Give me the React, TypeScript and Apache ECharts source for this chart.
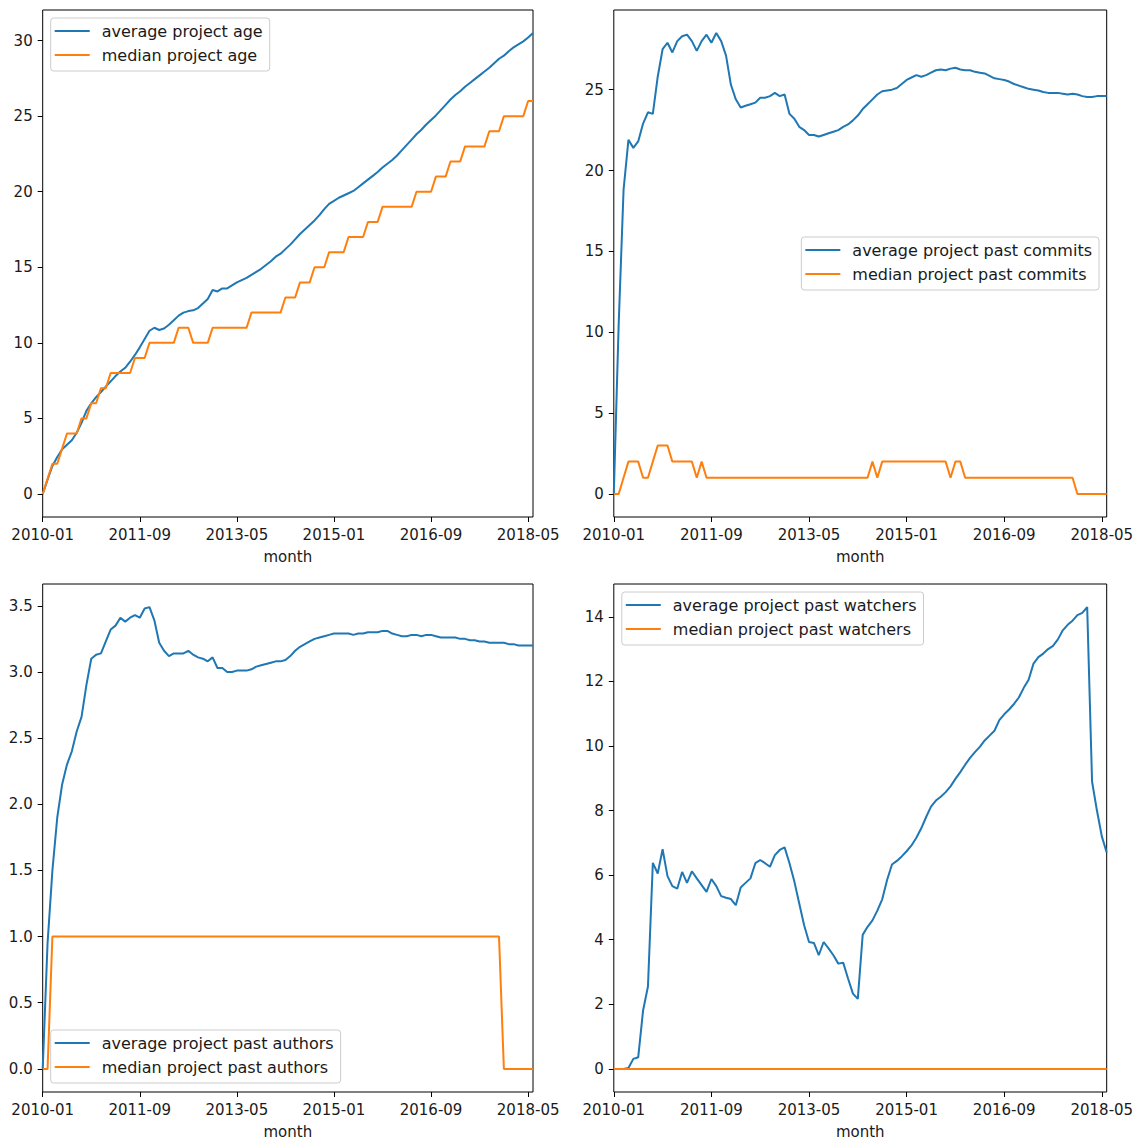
import React, { useEffect, useRef } from "react";
import * as echarts from "echarts";

// Monthly index: 0 = 2010-01 ... 101 = 2018-06
const monthTickIndex = [0, 20, 40, 60, 80, 100];
const monthTickLabels = ["2010-01", "2011-09", "2013-05", "2015-01", "2016-09", "2018-05"];

const ageAvg = [
  0, 0.95, 1.85, 2.45, 2.95, 3.25, 3.55, 4.05, 4.7, 5.5,
  6.0, 6.4, 6.75, 7.1, 7.45, 7.8, 8.1, 8.35, 8.75, 9.2,
  9.7, 10.25, 10.8, 11.0, 10.85, 10.95, 11.2, 11.5, 11.8, 12.0,
  12.1, 12.15, 12.3, 12.6, 12.9, 13.5, 13.4, 13.6, 13.6, 13.8,
  14.0, 14.15, 14.3, 14.5, 14.7, 14.9, 15.15, 15.4, 15.7, 15.9,
  16.2, 16.5, 16.85, 17.2, 17.5, 17.8, 18.1, 18.45, 18.85, 19.2,
  19.4, 19.6, 19.75, 19.9, 20.05, 20.3, 20.55, 20.8, 21.05, 21.3,
  21.6, 21.85, 22.1, 22.4, 22.75, 23.1, 23.45, 23.8, 24.1, 24.45,
  24.75, 25.05, 25.4, 25.75, 26.1, 26.4, 26.65, 26.95, 27.2, 27.45,
  27.7, 27.95, 28.2, 28.5, 28.8, 29.0, 29.3, 29.55, 29.75, 29.95,
  30.2, 30.5,
];

const ageMedian = [
  0, 1, 2, 2, 3, 4, 4, 4, 5, 5,
  6, 6, 7, 7, 8, 8, 8, 8, 8, 9,
  9, 9, 10, 10, 10, 10, 10, 10, 11, 11,
  11, 10, 10, 10, 10, 11, 11, 11, 11, 11,
  11, 11, 11, 12, 12, 12, 12, 12, 12, 12,
  13, 13, 13, 14, 14, 14, 15, 15, 15, 16,
  16, 16, 16, 17, 17, 17, 17, 18, 18, 18,
  19, 19, 19, 19, 19, 19, 19, 20, 20, 20,
  20, 21, 21, 21, 22, 22, 22, 23, 23, 23,
  23, 23, 24, 24, 24, 25, 25, 25, 25, 25,
  26, 26,
];

const commitsAvg = [
  0, 10.5, 18.8, 21.9, 21.4, 21.8, 22.9, 23.6, 23.5, 25.8,
  27.5, 27.9, 27.3, 28.0, 28.3, 28.4, 28.0, 27.4, 28.0, 28.4,
  27.9, 28.5, 28.0, 27.1, 25.3, 24.4, 23.9, 24.0, 24.1, 24.2,
  24.5, 24.5, 24.6, 24.8, 24.6, 24.7, 23.5, 23.2, 22.7, 22.5,
  22.2, 22.2, 22.1, 22.2, 22.3, 22.4, 22.5, 22.7, 22.85, 23.1,
  23.4, 23.8, 24.1, 24.4, 24.7, 24.9, 24.95, 25.0, 25.1, 25.35,
  25.6, 25.75, 25.9, 25.8, 25.9, 26.05, 26.2, 26.25, 26.2, 26.3,
  26.35, 26.25, 26.2, 26.2, 26.1, 26.05, 26.0, 25.85, 25.7, 25.65,
  25.6, 25.5, 25.35, 25.25, 25.15, 25.05, 25.0, 24.95, 24.85, 24.8,
  24.8, 24.8, 24.75, 24.7, 24.75, 24.7, 24.6, 24.55, 24.55, 24.6,
  24.6, 24.6,
];

const commitsMedian = [
  0, 0, 1, 2, 2, 2, 1, 1, 2, 3,
  3, 3, 2, 2, 2, 2, 2, 1, 2, 1,
  1, 1, 1, 1, 1, 1, 1, 1, 1, 1,
  1, 1, 1, 1, 1, 1, 1, 1, 1, 1,
  1, 1, 1, 1, 1, 1, 1, 1, 1, 1,
  1, 1, 1, 2, 1, 2, 2, 2, 2, 2,
  2, 2, 2, 2, 2, 2, 2, 2, 2, 1,
  2, 2, 1, 1, 1, 1, 1, 1, 1, 1,
  1, 1, 1, 1, 1, 1, 1, 1, 1, 1,
  1, 1, 1, 1, 1, 0, 0, 0, 0, 0,
  0, 0,
];

const authorsAvg = [
  0, 0.95, 1.5, 1.9, 2.15, 2.3, 2.4, 2.55, 2.66, 2.9,
  3.1, 3.13, 3.14, 3.23, 3.32, 3.35, 3.41, 3.38, 3.41, 3.43,
  3.41, 3.48, 3.49, 3.39, 3.22, 3.16, 3.12, 3.14, 3.14, 3.14,
  3.16, 3.13, 3.11, 3.1, 3.08, 3.11, 3.03, 3.03, 3.0, 3.0,
  3.01, 3.01, 3.01, 3.02, 3.04, 3.05, 3.06, 3.07, 3.08, 3.08,
  3.09, 3.12, 3.16, 3.19, 3.21, 3.23, 3.25, 3.26, 3.27, 3.28,
  3.29, 3.29, 3.29, 3.29, 3.28, 3.29, 3.29, 3.3, 3.3, 3.3,
  3.31, 3.31, 3.29, 3.28, 3.27, 3.27, 3.28, 3.28, 3.27, 3.28,
  3.28, 3.27, 3.26, 3.26, 3.26, 3.26, 3.25, 3.25, 3.24, 3.24,
  3.23, 3.23, 3.22, 3.22, 3.22, 3.22, 3.21, 3.21, 3.2, 3.2,
  3.2, 3.2,
];

const authorsMedian = [
  0, 0, 1, 1, 1, 1, 1, 1, 1, 1,
  1, 1, 1, 1, 1, 1, 1, 1, 1, 1,
  1, 1, 1, 1, 1, 1, 1, 1, 1, 1,
  1, 1, 1, 1, 1, 1, 1, 1, 1, 1,
  1, 1, 1, 1, 1, 1, 1, 1, 1, 1,
  1, 1, 1, 1, 1, 1, 1, 1, 1, 1,
  1, 1, 1, 1, 1, 1, 1, 1, 1, 1,
  1, 1, 1, 1, 1, 1, 1, 1, 1, 1,
  1, 1, 1, 1, 1, 1, 1, 1, 1, 1,
  1, 1, 1, 1, 1, 0, 0, 0, 0, 0,
  0, 0,
];

const watchersAvg = [
  0, 0, 0, 0.03, 0.31, 0.36, 1.81, 2.55, 6.38, 6.05,
  6.8, 5.97, 5.66, 5.58, 6.1, 5.76, 6.12, 5.9, 5.69, 5.48,
  5.88, 5.66, 5.35, 5.3, 5.26, 5.07, 5.62, 5.76, 5.9, 6.37,
  6.47, 6.37, 6.26, 6.62, 6.78, 6.86, 6.37, 5.8, 5.12, 4.45,
  3.93, 3.9, 3.52, 3.93, 3.73, 3.52, 3.26, 3.29, 2.8, 2.33,
  2.17, 4.15, 4.4, 4.6, 4.9, 5.25, 5.85, 6.33, 6.44, 6.58,
  6.74, 6.92, 7.16, 7.45, 7.8, 8.12, 8.31, 8.43, 8.57, 8.75,
  8.98, 9.19, 9.42, 9.63, 9.81, 9.97, 10.17, 10.32, 10.47, 10.8,
  10.98, 11.13, 11.3, 11.5, 11.8, 12.05, 12.55, 12.75, 12.86, 13.0,
  13.1, 13.3, 13.58, 13.75, 13.88, 14.05, 14.12, 14.3, 8.9, 8.0,
  7.2, 6.7,
];

const watchersMedian = [
  0, 0, 0, 0, 0, 0, 0, 0, 0, 0,
  0, 0, 0, 0, 0, 0, 0, 0, 0, 0,
  0, 0, 0, 0, 0, 0, 0, 0, 0, 0,
  0, 0, 0, 0, 0, 0, 0, 0, 0, 0,
  0, 0, 0, 0, 0, 0, 0, 0, 0, 0,
  0, 0, 0, 0, 0, 0, 0, 0, 0, 0,
  0, 0, 0, 0, 0, 0, 0, 0, 0, 0,
  0, 0, 0, 0, 0, 0, 0, 0, 0, 0,
  0, 0, 0, 0, 0, 0, 0, 0, 0, 0,
  0, 0, 0, 0, 0, 0, 0, 0, 0, 0,
  0, 0,
];

const ageTicks = [0, 5, 10, 15, 20, 25, 30];
const commitsTicks = [0, 5, 10, 15, 20, 25];
const authorsTicks = [0, 0.5, 1, 1.5, 2, 2.5, 3, 3.5];
const watchersTicks = [0, 2, 4, 6, 8, 10, 12, 14];

const ageNames = ["average project age", "median project age"];
const commitsNames = ["average project past commits", "median project past commits"];
const authorsNames = ["average project past authors", "median project past authors"];
const watchersNames = ["average project past watchers", "median project past watchers"];

const BLUE = "#1f77b4";
const ORANGE = "#ff7f0e";
const INK = "#1a1a1a";
const FONT = "DejaVu Sans";

const panels = [
  { avg: ageAvg, median: ageMedian, names: ageNames, yTicks: ageTicks, decimals: 0 },
  { avg: commitsAvg, median: commitsMedian, names: commitsNames, yTicks: commitsTicks, decimals: 0 },
  { avg: authorsAvg, median: authorsMedian, names: authorsNames, yTicks: authorsTicks, decimals: 1 },
  { avg: watchersAvg, median: watchersMedian, names: watchersNames, yTicks: watchersTicks, decimals: 0 },
];

// Plot frames and legend anchors, in page pixels
const frames = [
  { grid: { left: 42.7, top: 10, width: 490.3, height: 507 }, legend: { left: 50.7, top: 18 } },
  { grid: { left: 613.8, top: 10, width: 492.9, height: 507 }, legend: { right: 41, top: 237 } },
  { grid: { left: 42.7, top: 584, width: 490.3, height: 508 }, legend: { left: 50.7, top: 1030 } },
  { grid: { left: 613.8, top: 584, width: 492.9, height: 508 }, legend: { left: 621.8, top: 592 } },
];

// Data limits with a 5% margin on each side
function paddedExtent(a: number[], b: number[]): [number, number] {
  const all = a.concat(b);
  const lo = Math.min(...all);
  const hi = Math.max(...all);
  const pad = (hi - lo) * 0.05;
  return [lo - pad, hi + pad];
}

function buildOption() {
  const grid: any[] = [];
  const xAxis: any[] = [];
  const yAxis: any[] = [];
  const legend: any[] = [];
  const series: any[] = [];

  panels.forEach((p, k) => {
    const f = frames[k];
    grid.push({
      ...f.grid,
      show: true,
      borderColor: "#000",
      borderWidth: 1,
      backgroundColor: "transparent",
      containLabel: false,
    });

    xAxis.push({
      type: "value",
      gridIndex: k,
      min: 0,
      max: p.avg.length - 1,
      axisLine: { show: false, onZero: false },
      splitLine: { show: false },
      axisTick: {
        show: true,
        customValues: monthTickIndex,
        length: 5,
        lineStyle: { color: "#000", width: 1 },
      },
      axisLabel: {
        customValues: monthTickIndex,
        margin: 10,
        fontSize: 15,
        fontFamily: FONT,
        color: INK,
        formatter: (v: number) => {
          const idx = monthTickIndex.indexOf(Math.round(v));
          return idx >= 0 ? monthTickLabels[idx] : "";
        },
      },
      name: "month",
      nameLocation: "middle",
      nameGap: 32,
      nameTextStyle: { fontSize: 15, fontFamily: FONT, color: INK },
    });

    const [ymin, ymax] = paddedExtent(p.avg, p.median);
    yAxis.push({
      type: "value",
      gridIndex: k,
      min: ymin,
      max: ymax,
      axisLine: { show: false, onZero: false },
      splitLine: { show: false },
      axisTick: {
        show: true,
        customValues: p.yTicks,
        length: 5,
        lineStyle: { color: "#000", width: 1 },
      },
      axisLabel: {
        customValues: p.yTicks,
        margin: 10,
        fontSize: 15,
        fontFamily: FONT,
        color: INK,
        formatter: (v: number) => v.toFixed(p.decimals),
      },
    });

    legend.push({
      ...f.legend,
      orient: "vertical",
      data: p.names,
      selectedMode: false,
      icon: "rect",
      itemWidth: 35,
      itemHeight: 2,
      itemGap: 8,
      padding: [5, 7, 8, 4],
      backgroundColor: "rgba(255,255,255,0.8)",
      borderColor: "#cccccc",
      borderWidth: 1,
      borderRadius: 3,
      textStyle: {
        fontSize: 16,
        fontFamily: FONT,
        color: INK,
        padding: [0, 0, 0, 7],
      },
    });

    series.push({
      type: "line",
      name: p.names[0],
      xAxisIndex: k,
      yAxisIndex: k,
      data: p.avg.map((v, i) => [i, v]),
      symbol: "none",
      color: BLUE,
      lineStyle: { color: BLUE, width: 2 },
    });
    series.push({
      type: "line",
      name: p.names[1],
      xAxisIndex: k,
      yAxisIndex: k,
      data: p.median.map((v, i) => [i, v]),
      symbol: "none",
      color: ORANGE,
      lineStyle: { color: ORANGE, width: 2 },
    });
  });

  return {
    animation: false,
    backgroundColor: "#ffffff",
    textStyle: { fontFamily: FONT },
    grid,
    xAxis,
    yAxis,
    legend,
    series,
  };
}

export default function App() {
  const ref = useRef<HTMLDivElement>(null);

  useEffect(() => {
    if (!ref.current) return;
    const chart = echarts.init(ref.current, null, { renderer: "svg" });
    chart.setOption(buildOption());
    return () => chart.dispose();
  }, []);

  return (
    <div
      ref={ref}
      style={{ position: "absolute", left: 0, top: 0, width: 1140, height: 1142 }}
    />
  );
}
